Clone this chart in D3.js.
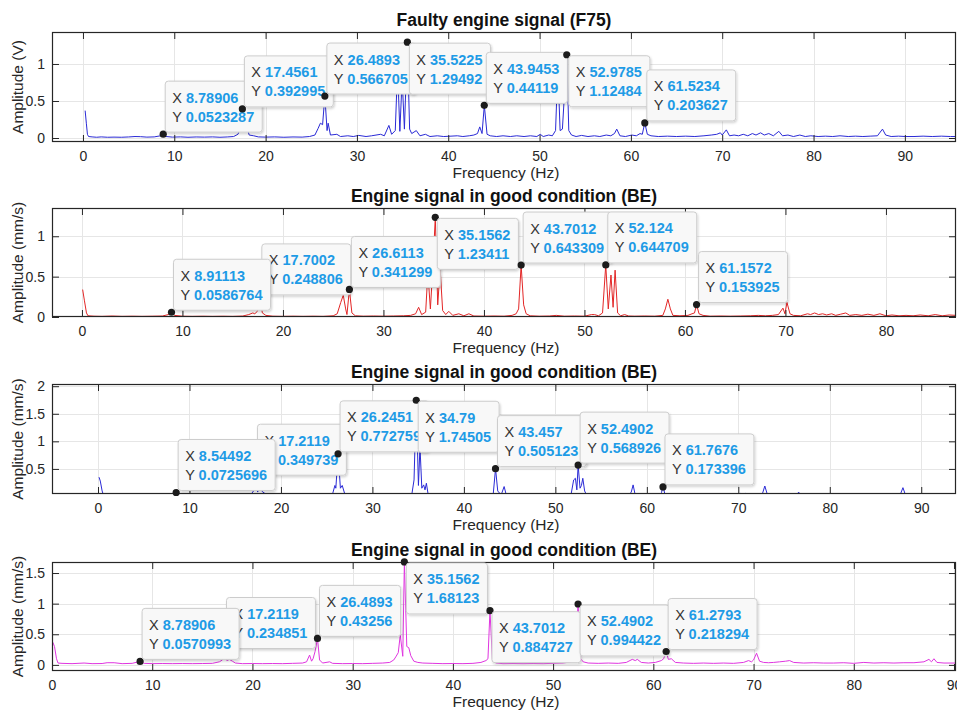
<!DOCTYPE html>
<html>
<head>
<meta charset="utf-8">
<script src="https://cdn.jsdelivr.net/npm/d3@7/dist/d3.min.js"></script>
<style>
  body { margin: 0; background: #fff; }
  svg { display: block; }
  text { font-family: Arial, "Liberation Sans", Helvetica, sans-serif; }
</style>
</head>
<body>
<svg id="chart" width="957" height="713"></svg>
<script>
// ---------------- DATA ----------------
const titles = [
  "Faulty engine signal (F75)",
  "Engine signal in good condition (BE)",
  "Engine signal in good condition (BE)",
  "Engine signal in good condition (BE)"
];
const yAxisLabels = ["Amplitude (V)", "Amplitude (mm/s)", "Amplitude (mm/s)", "Amplitude (mm/s)"];
const xAxisLabel = "Frequency (Hz)";

const xTicks1 = [0, 10, 20, 30, 40, 50, 60, 70, 80, 90];
const xTicks2 = [0, 10, 20, 30, 40, 50, 60, 70, 80];
const xTicks3 = [0, 10, 20, 30, 40, 50, 60, 70, 80, 90];
const xTicks4 = [0, 10, 20, 30, 40, 50, 60, 70, 80, 90];
const yTicks1 = [0, 0.5, 1];
const yTicks2 = [0, 0.5, 1];
const yTicks3 = [0.5, 1, 1.5, 2];
const yTicks4 = [0, 0.5, 1, 1.5];

// spectrum 1 : faulty engine (F75)  [frequency Hz, amplitude V]
const spectrumF75 = [
  [0.24,0.37],[0.37,0.2],[0.49,0.05],[0.61,0.02],[1.0,0.015],[1.5,0.01],[2.0,0.015],[2.7,0.01],[3.4,0.012],[4.2,0.01],
  [5.0,0.014],[5.7,0.02],[6.3,0.018],[7.0,0.012],[7.8,0.015],[8.5,0.03],[8.79,0.0523],[9.1,0.02],[9.8,0.012],[10.7,0.015],
  [11.5,0.01],[12.4,0.014],[13.3,0.012],[14.2,0.015],[15.0,0.01],[15.8,0.014],[16.5,0.02],[16.97,0.05],[17.2,0.12],[17.46,0.393],
  [17.7,0.09],[17.95,0.15],[18.2,0.04],[18.7,0.03],[19.2,0.015],[20,0.012],[21,0.015],[22,0.01],[23,0.014],[24,0.012],
  [24.8,0.02],[25.4,0.04],[25.75,0.13],[26.0,0.2],[26.24,0.18],[26.49,0.567],[26.73,0.1],[26.85,0.2],[27.1,0.04],[27.8,0.05],
  [28.2,0.02],[29,0.03],[29.6,0.02],[30.2,0.035],[31,0.02],[31.6,0.03],[32.6,0.05],[33.0,0.03],[33.5,0.17],[33.8,0.05],
  [34.2,0.1],[34.45,0.95],[34.7,0.09],[34.95,0.8],[35.2,0.12],[35.52,1.295],[35.77,0.12],[36.0,0.06],[36.5,0.1],[36.9,0.03],
  [37.5,0.05],[38,0.02],[38.8,0.03],[39.5,0.02],[40.3,0.025],[41,0.03],[41.6,0.02],[42.3,0.03],[42.8,0.04],[43.2,0.06],
  [43.45,0.15],[43.7,0.06],[43.95,0.441],[44.25,0.05],[44.6,0.03],[45.3,0.02],[46,0.03],[46.8,0.02],[47.5,0.03],[48.3,0.02],
  [49,0.03],[49.7,0.02],[50.07,0.05],[50.4,0.02],[51.0,0.04],[51.4,0.03],[51.75,0.1],[52.0,0.95],[52.25,0.1],[52.5,0.12],
  [52.98,1.125],[53.2,0.1],[53.5,0.04],[54,0.02],[54.6,0.035],[55.3,0.02],[56,0.03],[56.6,0.02],[57.3,0.04],[57.8,0.03],
  [58.2,0.06],[58.45,0.12],[58.8,0.03],[59.4,0.02],[60.1,0.04],[60.6,0.03],[61.0,0.06],[61.25,0.05],[61.52,0.204],[61.8,0.05],
  [62.2,0.03],[63,0.02],[64,0.025],[65,0.02],[66,0.025],[67,0.02],[68,0.03],[68.8,0.04],[69.4,0.05],[69.8,0.07],
  [70.0,0.04],[70.45,0.11],[70.8,0.03],[71.3,0.04],[71.8,0.03],[72.3,0.05],[72.8,0.03],[73.3,0.06],[73.7,0.04],[74.2,0.07],
  [74.6,0.04],[75.1,0.06],[75.6,0.03],[76.2,0.09],[76.6,0.03],[77.2,0.04],[77.8,0.02],[78.5,0.04],[79.1,0.02],[79.7,0.03],
  [80.5,0.02],[81.3,0.025],[82.1,0.02],[82.9,0.03],[83.8,0.02],[84.6,0.025],[85.4,0.02],[86.2,0.025],[87.0,0.03],[87.55,0.12],
  [87.9,0.04],[88.5,0.02],[89.3,0.025],[90.1,0.02],[91,0.02],[92,0.025],[93,0.02],[94,0.025],[95,0.02],[95.6,0.02]
];

// spectrum 2 : good condition (BE), red
const spectrumBE1 = [
  [0.07,0.34],[0.25,0.2],[0.45,0.05],[0.6,0.015],[1.2,0.01],[2,0.008],[3,0.012],[4,0.008],[5,0.01],[6,0.008],
  [7,0.01],[8,0.012],[8.6,0.03],[8.91,0.0587],[9.2,0.02],[10,0.01],[11,0.008],[12,0.01],[13,0.008],[14,0.01],
  [15,0.008],[16,0.012],[16.6,0.03],[17.0,0.05],[17.2,0.04],[17.45,0.07],[17.7,0.249],[17.95,0.05],[18.3,0.02],[19,0.01],
  [20,0.008],[21,0.01],[22,0.008],[23,0.01],[24,0.008],[25,0.015],[25.4,0.04],[25.75,0.18],[26.0,0.27],[26.24,0.1],
  [26.37,0.03],[26.61,0.341],[26.86,0.05],[27.2,0.015],[28,0.01],[29,0.012],[30,0.01],[31,0.012],[32,0.015],[32.7,0.02],
  [33.2,0.04],[33.5,0.12],[33.8,0.03],[34.2,0.06],[34.42,0.55],[34.67,0.1],[34.91,0.6],[35.16,1.234],[35.4,0.15],[35.64,0.6],
  [35.89,0.08],[36.2,0.03],[36.5,0.07],[36.9,0.02],[37.5,0.04],[38.0,0.015],[38.5,0.04],[39,0.012],[40,0.01],[41,0.012],
  [42,0.01],[42.8,0.02],[43.2,0.04],[43.45,0.1],[43.7,0.643],[43.95,0.15],[44.2,0.04],[44.6,0.015],[45.5,0.01],[46.5,0.012],
  [47.2,0.02],[48,0.01],[49,0.012],[50,0.01],[50.7,0.03],[51.0,0.03],[51.4,0.015],[51.8,0.05],[52.12,0.645],[52.37,0.1],
  [52.64,0.52],[52.85,0.12],[53.05,0.58],[53.3,0.05],[53.6,0.015],[54.0,0.03],[54.4,0.012],[55,0.01],[56,0.012],[57,0.01],
  [57.8,0.02],[58.05,0.1],[58.3,0.22],[58.55,0.1],[58.8,0.02],[59.5,0.015],[60.3,0.02],[60.7,0.04],[60.95,0.05],[61.16,0.154],
  [61.4,0.04],[61.8,0.02],[62.5,0.01],[63.5,0.012],[64.5,0.01],[65.5,0.012],[66.5,0.015],[67.3,0.02],[68,0.015],[68.7,0.02],
  [69.3,0.03],[69.75,0.11],[69.95,0.04],[70.15,0.18],[70.45,0.04],[70.8,0.02],[71.5,0.015],[72.2,0.04],[72.5,0.03],[72.9,0.05],
  [73.3,0.03],[73.7,0.04],[74.1,0.025],[74.6,0.04],[75.0,0.02],[75.5,0.035],[76.0,0.05],[76.4,0.02],[77,0.03],[77.6,0.02],
  [78.2,0.035],[78.8,0.02],[79.4,0.04],[80,0.015],[80.6,0.025],[81.3,0.015],[82,0.02],[82.7,0.015],[83.4,0.025],[84.2,0.015],
  [84.9,0.03],[85.6,0.015],[86.3,0.025],[87,0.02]
];

// spectrum 3 : good condition (BE), blue
const spectrumBE2 = [
  [0.11,0.35],[0.25,0.28],[0.45,0.1],[0.6,0.02],[1.5,0.01],[3,0.015],[5,0.01],[7,0.015],[8.2,0.02],[8.54,0.0726],
  [8.8,0.02],[10,0.01],[12,0.015],[14,0.01],[16,0.015],[16.7,0.03],[17.0,0.1],[17.21,0.35],[17.45,0.08],[17.7,0.2],
  [17.95,0.09],[18.2,0.06],[18.5,0.02],[20,0.01],[22,0.015],[24,0.01],[25.6,0.02],[25.9,0.2],[26.0,0.15],[26.25,0.773],
  [26.5,0.15],[26.7,0.2],[26.95,0.06],[27.2,0.02],[29,0.01],[31,0.015],[33.6,0.02],[33.8,0.06],[34.0,0.02],[34.3,0.03],
  [34.55,0.3],[34.79,1.745],[35.03,0.2],[35.2,0.9],[35.4,0.15],[35.6,0.21],[35.75,0.12],[35.9,0.24],[36.1,0.03],[36.8,0.02],
  [37.0,0.06],[37.2,0.02],[39,0.01],[41,0.015],[43.2,0.03],[43.46,0.505],[43.7,0.1],[43.9,0.06],[44.1,0.04],[44.4,0.18],
  [44.6,0.05],[44.8,0.02],[47,0.01],[49.8,0.02],[50.0,0.055],[50.2,0.02],[51.7,0.02],[52.0,0.3],[52.19,0.33],[52.35,0.12],
  [52.49,0.569],[52.7,0.15],[52.85,0.2],[53.0,0.33],[53.2,0.1],[53.4,0.03],[54.8,0.02],[55.0,0.05],[55.2,0.02],[56.3,0.02],
  [56.5,0.05],[56.7,0.02],[58.0,0.02],[58.3,0.08],[58.5,0.21],[58.7,0.05],[59,0.02],[61.4,0.02],[61.6,0.07],[61.77,0.173],
  [62.0,0.03],[64,0.01],[66,0.015],[68,0.01],[69.9,0.02],[70.2,0.055],[70.5,0.04],[70.8,0.055],[71.1,0.03],[72.6,0.03],
  [72.9,0.19],[73.15,0.05],[73.4,0.03],[74.0,0.02],[74.2,0.06],[74.4,0.02],[75.4,0.02],[75.6,0.06],[75.8,0.02],[76.4,0.03],
  [76.6,0.08],[76.8,0.02],[77.6,0.02],[77.8,0.05],[78.0,0.02],[79.2,0.02],[79.4,0.06],[79.6,0.02],[82,0.01],[85,0.015],
  [87.7,0.03],[88.0,0.16],[88.25,0.04],[90,0.01],[92,0.015],[93.8,0.01]
];

// spectrum 4 : good condition (BE), magenta
const spectrumBE3 = [
  [0.08,0.37],[0.25,0.3],[0.45,0.1],[0.6,0.03],[1,0.025],[2,0.02],[3.2,0.03],[4,0.02],[5,0.022],[5.5,0.035],
  [6.2,0.035],[7,0.02],[8,0.025],[8.79,0.057],[9.2,0.025],[10,0.02],[11,0.022],[12,0.02],[13,0.022],[14,0.02],
  [15,0.022],[16,0.025],[16.7,0.05],[17.0,0.08],[17.21,0.235],[17.45,0.07],[17.7,0.09],[18.0,0.06],[18.3,0.03],[19,0.02],
  [20,0.022],[21,0.02],[22,0.022],[23,0.02],[24,0.025],[25,0.03],[25.4,0.05],[25.7,0.16],[25.9,0.06],[26.05,0.1],
  [26.25,0.22],[26.49,0.4326],[26.7,0.08],[27.0,0.03],[27.7,0.05],[28,0.025],[29,0.02],[30,0.022],[31,0.02],[32,0.025],
  [33,0.03],[33.7,0.04],[34.1,0.08],[34.3,0.13],[34.55,0.2],[34.75,0.49],[35.0,0.14],[35.16,1.681],[35.4,0.3],[35.6,0.28],
  [35.8,0.15],[36.1,0.06],[36.5,0.04],[37,0.03],[38,0.025],[39,0.02],[40,0.022],[41,0.02],[42,0.025],[42.8,0.04],
  [43.3,0.07],[43.5,0.1],[43.7,0.885],[43.95,0.07],[44.3,0.03],[45,0.02],[46,0.022],[47,0.02],[48,0.022],[49,0.02],
  [50,0.025],[51,0.03],[51.8,0.05],[52.2,0.1],[52.49,0.994],[52.75,0.1],[53.0,0.05],[53.5,0.03],[54.5,0.025],[55.5,0.03],
  [56.5,0.025],[57.3,0.04],[57.9,0.09],[58.2,0.07],[58.4,0.09],[58.8,0.04],[59.5,0.03],[60.2,0.04],[60.8,0.07],[61.03,0.1],
  [61.28,0.218],[61.5,0.09],[61.8,0.1],[62.2,0.04],[63,0.03],[64,0.025],[65,0.03],[66,0.025],[67,0.03],[68,0.025],
  [69,0.04],[69.5,0.07],[69.8,0.05],[70.0,0.08],[70.3,0.19],[70.6,0.06],[71,0.04],[71.5,0.035],[72,0.04],[72.6,0.05],
  [73.2,0.06],[73.6,0.07],[74,0.04],[75,0.03],[76,0.035],[77,0.03],[78,0.03],[79,0.035],[80,0.025],[81,0.04],
  [82,0.03],[83,0.035],[84,0.03],[85,0.035],[86,0.035],[87,0.05],[87.5,0.09],[87.75,0.05],[88.0,0.1],[88.3,0.04],
  [89,0.03],[90,0.03],[90.2,0.03]
];

// data tips (listed in stacking order)
const tips1X = [8.78906, 17.4561, 26.4893, 35.5225, 43.9453, 52.9785, 61.5234];
const tips1Y = [0.0523287, 0.392995, 0.566705, 1.29492, 0.44119, 1.12484, 0.203627];
const tips2X = [17.7002, 8.91113, 26.6113, 35.1562, 43.7012, 52.124, 61.1572];
const tips2Y = [0.248806, 0.0586764, 0.341299, 1.23411, 0.643309, 0.644709, 0.153925];
const tips3X = [17.2119, 8.54492, 26.2451, 34.79, 43.457, 52.4902, 61.7676];
const tips3Y = [0.349739, 0.0725696, 0.772759, 1.74505, 0.505123, 0.568926, 0.173396];
const tips4X = [17.2119, 8.78906, 26.4893, 35.1562, 43.7012, 52.4902, 61.2793];
const tips4Y = [0.234851, 0.0570993, 0.43256, 1.68123, 0.884727, 0.994422, 0.218294];

// ---------------- LAYOUT / STYLE ----------------
const left = 52, right = 956;
const panelCfg = [
  { data: spectrumF75, xt: xTicks1, yt: yTicks1, tx: tips1X, ty: tips1Y, below: [0,0,0,1,0,1,0],
    top: 32, bottom: 142, xd: [-3.39, 95.6], yd: [-0.054, 1.432], color: "#2a2ad6" },
  { data: spectrumBE1, xt: xTicks2, yt: yTicks2, tx: tips2X, ty: tips2Y, below: [0,0,0,1,0,0,0],
    top: 208, bottom: 317, xd: [-2.98, 86.97], yd: [0, 1.35], color: "#e32626" },
  { data: spectrumBE2, xt: xTicks3, yt: yTicks3, tx: tips3X, ty: tips3Y, below: [0,0,0,1,0,0,0],
    top: 384, bottom: 494, xd: [-5.03, 93.8], yd: [0.045, 2.04], color: "#2a2ad6" },
  { data: spectrumBE3, xt: xTicks4, yt: yTicks4, tx: tips4X, ty: tips4Y, below: [0,0,0,1,1,1,0],
    top: 562, bottom: 671, xd: [0, 90.2], yd: [-0.1, 1.68], color: "#e035e0" }
];

const svg = d3.select("#chart");
const axisColor = "#262626";
const gridColor = "#e6e6e6";
const tipBlue = "#1e9be6";
const fmt = d => String(d);

const defs = svg.append("defs");
const sh = defs.append("filter").attr("id", "tipShadow").attr("x", "-10%").attr("y", "-10%").attr("width", "130%").attr("height", "140%");
sh.append("feDropShadow").attr("dx", 1).attr("dy", 1.5).attr("stdDeviation", 1.2).attr("flood-color", "#000").attr("flood-opacity", 0.18);

panelCfg.forEach((p, i) => {
  const x = d3.scaleLinear().domain(p.xd).range([left, right]);
  const y = d3.scaleLinear().domain(p.yd).range([p.bottom, p.top]);
  const g = svg.append("g");
  const h = p.bottom - p.top;

  defs.append("clipPath").attr("id", "clip" + i)
    .append("rect").attr("x", left).attr("y", p.top).attr("width", right - left).attr("height", h);

  // grid
  g.append("g").selectAll("line").data(p.xt.filter(t => t > p.xd[0] && t < p.xd[1])).join("line")
    .attr("x1", d => Math.round(x(d)) + 0.5).attr("x2", d => Math.round(x(d)) + 0.5)
    .attr("y1", p.top).attr("y2", p.bottom).attr("stroke", gridColor).attr("stroke-width", 1);
  g.append("g").selectAll("line").data(p.yt.filter(t => t > p.yd[0] && t < p.yd[1])).join("line")
    .attr("y1", d => Math.round(y(d)) + 0.5).attr("y2", d => Math.round(y(d)) + 0.5)
    .attr("x1", left).attr("x2", right).attr("stroke", gridColor).attr("stroke-width", 1);

  // spectrum line
  const line = d3.line().x(d => x(d[0])).y(d => y(d[1]));
  g.append("path").datum(p.data).attr("d", line)
    .attr("clip-path", "url(#clip" + i + ")")
    .attr("fill", "none").attr("stroke", p.color).attr("stroke-width", 1).attr("stroke-linejoin", "round");

  // axes
  const tk = 7;
  const xb = g.append("g").attr("transform", `translate(0,${p.bottom})`)
    .call(d3.axisBottom(x).tickValues(p.xt).tickSizeInner(-tk).tickSizeOuter(0).tickPadding(9).tickFormat(fmt));
  const xtop = g.append("g").attr("transform", `translate(0,${p.top})`)
    .call(d3.axisTop(x).tickValues(p.xt).tickSizeInner(-tk).tickSizeOuter(0).tickFormat(""));
  const yl = g.append("g").attr("transform", `translate(${left},0)`)
    .call(d3.axisLeft(y).tickValues(p.yt).tickSizeInner(-tk).tickSizeOuter(0).tickPadding(7).tickFormat(fmt));
  const yr = g.append("g").attr("transform", `translate(${right},0)`)
    .call(d3.axisRight(y).tickValues(p.yt).tickSizeInner(-tk).tickSizeOuter(0).tickFormat(""));
  [xb, xtop, yl, yr].forEach(a => {
    a.select(".domain").remove();
    a.selectAll(".tick line").attr("stroke", axisColor).attr("stroke-width", 1);
    a.selectAll(".tick text").attr("fill", axisColor).attr("font-size", 14)
      .attr("font-family", 'Arial, "Liberation Sans", Helvetica, sans-serif');
  });
  g.append("rect").attr("x", left + 0.5).attr("y", p.top + 0.5)
    .attr("width", right - left - 1).attr("height", h - 1)
    .attr("fill", "none").attr("stroke", axisColor).attr("stroke-width", 1.2);

  // title
  g.append("text").attr("x", (left + right) / 2).attr("y", p.top - 6)
    .attr("text-anchor", "middle").attr("font-size", 17.5).attr("font-weight", "bold")
    .attr("fill", "#111").text(titles[i]);
  // x label
  g.append("text").attr("x", (left + right) / 2 + 2).attr("y", p.bottom + 36)
    .attr("text-anchor", "middle").attr("font-size", 15.5).attr("fill", axisColor).text(xAxisLabel);
  // y label
  g.append("text").attr("transform", `translate(23,${(p.top + p.bottom) / 2}) rotate(-90)`)
    .attr("text-anchor", "middle").attr("font-size", 15.5).attr("fill", axisColor).text(yAxisLabels[i]);

  // data tips
  const tg = g.append("g");
  p.tx.forEach((fx, k) => {
    const fy = p.ty[k];
    const cx = x(fx), cy = y(fy);
    const one = tg.append("g");
    one.append("circle").attr("cx", cx).attr("cy", cy).attr("r", 3.6).attr("fill", "#1c1c1c");
    const box = one.append("rect");
    const t1 = one.append("text").attr("font-size", 14.5);
    t1.append("tspan").attr("fill", "#333").text("X ");
    t1.append("tspan").attr("fill", tipBlue).attr("font-weight", "bold").text(fmt(fx));
    const t2 = one.append("text").attr("font-size", 14.5);
    t2.append("tspan").attr("fill", "#333").text("Y ");
    t2.append("tspan").attr("fill", tipBlue).attr("font-weight", "bold").text(fmt(fy));
    const tw = Math.max(t1.node().getComputedTextLength(), t2.node().getComputedTextLength());
    const bw = tw + 15, bh = 51;
    const bx = cx + 2;
    const by = p.below[k] ? cy + 1 : cy - 2 - bh;
    box.attr("x", bx).attr("y", by).attr("width", bw).attr("height", bh).attr("rx", 3)
      .attr("fill", "#f8f8f8").attr("stroke", "#cdcdcd").attr("stroke-width", 1)
      .attr("filter", "url(#tipShadow)");
    t1.attr("x", bx + 7).attr("y", by + 21.5);
    t2.attr("x", bx + 7).attr("y", by + 40.5);
  });
});
</script>
</body>
</html>
